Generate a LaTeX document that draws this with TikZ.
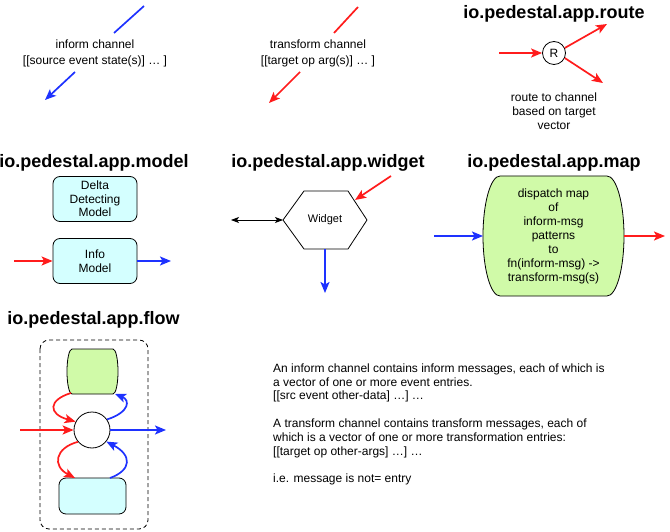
\documentclass[tikz,border=0pt]{standalone}
\usepackage{fontspec}
\setmainfont{Liberation Sans}
\usetikzlibrary{arrows.meta,shapes.geometric}
\definecolor{cred}{RGB}{255,28,28}
\definecolor{cblue}{RGB}{30,50,255}
\definecolor{ccyan}{RGB}{212,255,255}
\definecolor{cgreen}{RGB}{208,250,168}
\begin{document}
\begin{tikzpicture}[x=1pt,y=-1pt,
  tip/.style={-{Stealth[length=11pt,width=9pt,inset=2.5pt]}},
  redarr/.style={tip,draw=cred,line width=1.7pt},
  bluearr/.style={tip,draw=cblue,line width=1.7pt},
  redline/.style={draw=cred,line width=1.7pt},
  blueline/.style={draw=cblue,line width=1.7pt},
  lbl/.style={font=\fontsize{12}{14}\selectfont,align=center,inner sep=0pt},
  ttl/.style={font=\bfseries\fontsize{18}{20}\selectfont,inner sep=0pt},
  cyanbox/.style={draw,fill=ccyan,rounded corners=7pt,line width=0.8pt,minimum width=84pt,minimum height=45pt,align=center,font=\fontsize{12}{13.5}\selectfont,inner sep=0pt},
  shapeline/.style={draw,line width=0.8pt}
]
\useasboundingbox (0,0) rectangle (670,532);

% ---------- inform channel ----------
\coordinate (ia) at (144,6);
\coordinate (ib) at (114,33);
\coordinate (ic) at (75,72);
\coordinate (id) at (45,100);
\draw[blueline] (ia) -- (ib);
\draw[bluearr] (ic) -- (id);
\node[lbl,font=\fontsize{12}{16}\selectfont] (inform) at (95,53) {inform channel\\{}[[source event state(s)] … ]};

% ---------- transform channel ----------
\coordinate (ta) at (358,7);
\coordinate (tb) at (334,33);
\coordinate (tc) at (300,72);
\coordinate (td) at (269,103);
\draw[redline] (ta) -- (tb);
\draw[redarr] (tc) -- (td);
\node[lbl,font=\fontsize{12}{16}\selectfont] (transform) at (318,53) {transform channel\\{}[[target op arg(s)] … ]};

% ---------- route ----------
\node[ttl] (troute) at (554,14) {io.pedestal.app.route};
\node[circle,draw,line width=0.8pt,minimum size=23pt,inner sep=0pt,font=\fontsize{12}{14}\selectfont] (R) at (554,53) {R};
\coordinate (rin) at (499,53);
\coordinate (rup) at (607,24);
\coordinate (rdn) at (603,83);
\draw[redarr] (rin) -- (R);
\draw[redarr] (R.25) -- (rup);
\draw[redarr] (R.-25) -- (rdn);
\node[lbl] (rtext) at (554,111) {route to channel\\based on target\\vector};

% ---------- model ----------
\node[ttl] (tmodel) at (94,163) {io.pedestal.app.model};
\node[cyanbox] (delta) at (95,199) {Delta\\Detecting\\Model};
\node[cyanbox] (info) at (95,261) {Info\\Model};
\coordinate (min) at (14,261);
\coordinate (mout) at (171,261);
\draw[redarr] (min) -- (info.west);
\draw[bluearr] (info.east) -- (mout);

% ---------- widget ----------
\node[ttl] (twidget) at (328,163) {io.pedestal.app.widget};
\coordinate (hl) at (283,220);
\coordinate (htl) at (304,191);
\coordinate (htr) at (348,191);
\coordinate (hr) at (367,220);
\coordinate (hbr) at (348,249);
\coordinate (hbl) at (304,249);
\draw[shapeline] (hl) -- (htl) -- (htr) -- (hr) -- (hbr) -- (hbl) -- cycle;
\node[font=\fontsize{11}{13}\selectfont,inner sep=0pt] (widget) at (325,220) {Widget};
\coordinate (wred) at (391,176);
\coordinate (wredtip) at (355,200);
\draw[redarr] (wred) -- (wredtip);
\coordinate (wleft) at (231,220);
\draw[line width=0.8pt,{Stealth[length=8pt,width=6pt,inset=2pt]}-{Stealth[length=8pt,width=6pt,inset=2pt]}] (wleft) -- (hl);
\coordinate (wbot) at (325,249);
\coordinate (wdown) at (325,293);
\draw[bluearr] (wbot) -- (wdown);

% ---------- map ----------
\node[ttl] (tmap) at (554,163) {io.pedestal.app.map};
\draw[shapeline,fill=cgreen] (500,176) -- (607,176)
  .. controls (616.4,176) and (624,203) .. (624,236)
  .. controls (624,269) and (616.4,296) .. (607,296) -- (500,296)
  .. controls (490.6,296) and (483,269) .. (483,236)
  .. controls (483,203) and (490.6,176) .. (500,176) -- cycle;
\node[lbl] (map) at (553.5,236) {dispatch map\\of\\inform-msg\\patterns\\to\\fn(inform-msg) ->\\transform-msg(s)};
\coordinate (mapl) at (483,236);
\coordinate (mapr) at (624,236);
\coordinate (mapin) at (434,236);
\coordinate (mapout) at (665,236);
\draw[bluearr] (mapin) -- (mapl);
\draw[redarr] (mapr) -- (mapout);

% ---------- flow ----------
\node[ttl] (tflow) at (93.5,320) {io.pedestal.app.flow};
\draw[line width=0.8pt,dashed,dash pattern=on 4pt off 3pt,rounded corners=9pt] (40,340) rectangle (148,529);
\draw[shapeline,fill=cgreen] (72,349) -- (113,349)
  .. controls (115.8,349) and (118,359) .. (118,371.5)
  .. controls (118,384) and (115.8,394) .. (113,394) -- (72,394)
  .. controls (69.2,394) and (67,384) .. (67,371.5)
  .. controls (67,359) and (69.2,349) .. (72,349) -- cycle;
\draw[shapeline,fill=ccyan,rounded corners=7pt] (59,478) rectangle (126,514);
\node[circle,draw,line width=0.8pt,minimum size=36pt,inner sep=0pt,fill=white] (fc) at (92,430) {};
\coordinate (gbl) at (71,393);
\coordinate (gbr) at (115,394);
\coordinate (ctl) at (75,478);
\coordinate (ctr) at (110,478);
\coordinate (fin) at (20,430);
\coordinate (fout) at (166,430);
\draw[redarr] (fin) -- (fc.west);
\draw[bluearr] (fc.east) -- (fout);
\draw[redarr] (gbl) .. controls (48,400) and (48,414) .. (fc.153);
\draw[redarr] (fc.220) .. controls (55,448) and (52,466) .. (ctl);
\draw[bluearr] (ctr) .. controls (132,470) and (132,455) .. (fc.-39);
\draw[bluearr] (fc.35) .. controls (130,412) and (130,400) .. (gbr);

% ---------- text ----------
\node[anchor=north west,align=left,inner sep=0pt,font=\fontsize{12}{13.8}\selectfont] (note) at (273,363.5)
{An inform channel contains inform messages, each of which is\\
a vector of one or more event entries.\\
{}[[src event other-data] …] …\\[13.8pt]
A transform channel contains transform messages, each of\\
which is a vector of one or more transformation entries:\\
{}[[target op other-args] …] …\\[13.8pt]
i.e. message is not= entry};
\end{tikzpicture}
\end{document}
